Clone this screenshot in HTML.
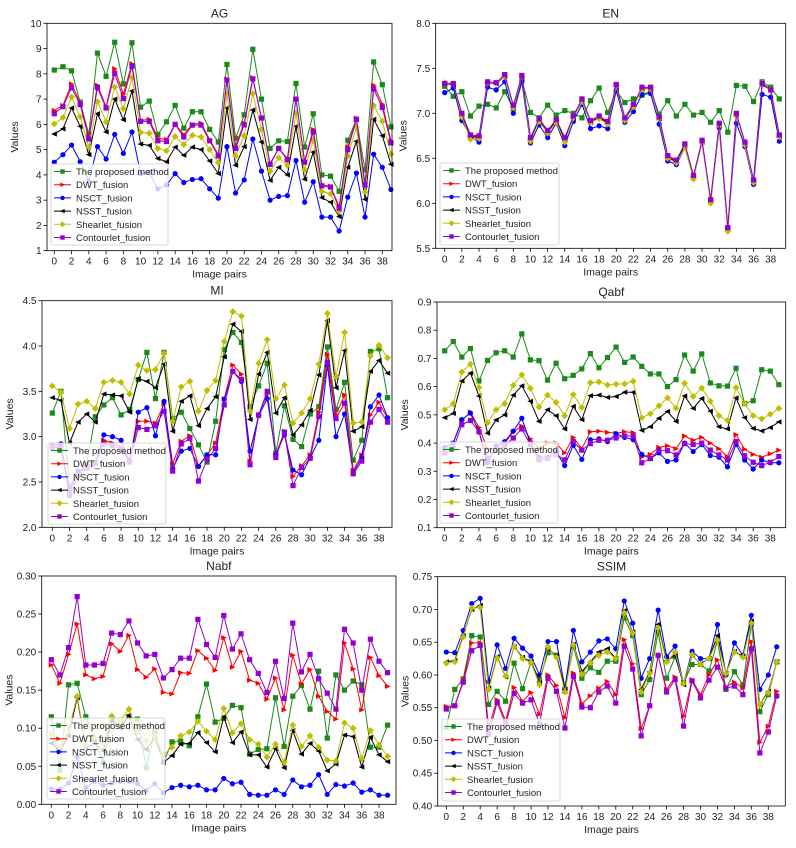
<!DOCTYPE html>
<html><head><meta charset="utf-8"><style>
body{margin:0;background:#fff;width:796px;height:848px;overflow:hidden;font-family:"Liberation Sans","DejaVu Sans",sans-serif}
svg{display:block}
</style></head><body>
<svg id="fig" width="796" height="848" xmlns="http://www.w3.org/2000/svg"></svg>
<script>
const xCats=[...Array(40).keys()];
const seriesNames=["The proposed method","DWT_fusion","NSCT_fusion","NSST_fusion","Shearlet_fusion","Contourlet_fusion"];
const xTickLabels=[0,2,4,6,8,10,12,14,16,18,20,22,24,26,28,30,32,34,36,38];

const agProposed=[8.15,8.28,8.12,6.88,5.6,8.82,7.9,9.25,7.6,9.23,6.68,6.92,5.6,6.1,6.75,5.85,6.5,6.5,5.8,5.3,8.37,5.45,6.38,8.97,7.0,5.05,5.35,5.32,7.62,5.1,6.42,4.0,3.95,3.35,5.37,6.2,4.2,8.47,7.57,5.9];
const agDWT=[6.55,6.75,7.6,6.85,5.5,7.55,6.7,8.2,7.2,8.4,6.15,6.2,5.45,5.4,6.0,5.6,6.0,6.05,5.4,4.8,7.8,5.15,6.05,7.85,6.25,4.45,5.05,4.65,7.0,4.55,5.8,3.6,3.55,2.75,5.1,6.25,3.65,7.55,6.8,5.35];
const agNSCT=[4.5,4.8,5.18,4.52,3.75,5.12,4.63,5.6,4.85,5.7,4.05,4.1,3.45,3.6,4.05,3.7,3.82,3.85,3.45,3.08,5.12,3.28,3.8,5.42,4.15,3.0,3.15,3.18,4.57,2.92,3.73,2.33,2.33,1.78,3.12,4.07,2.33,4.82,4.3,3.42];
const agNSST=[5.62,5.82,6.65,5.92,4.8,6.42,5.7,7.0,6.18,7.32,5.22,5.17,4.65,4.52,5.1,4.78,5.1,5.0,4.55,4.05,6.65,4.38,5.12,6.57,5.3,3.78,4.3,4.0,5.92,3.83,4.9,3.1,2.92,2.35,4.3,5.33,3.03,6.2,5.55,4.42];
const agShearlet=[6.02,6.27,7.08,6.3,5.1,6.9,6.1,7.48,6.62,7.85,5.68,5.65,5.05,4.95,5.52,5.2,5.57,5.5,5.0,4.48,7.2,4.75,5.55,7.22,5.8,4.15,4.68,4.38,6.45,4.2,5.37,3.35,3.25,2.55,4.75,5.88,3.32,6.75,6.12,4.82];
const agContourlet=[6.42,6.7,7.45,6.78,5.42,7.45,6.65,8.02,7.02,8.3,6.12,6.12,5.35,5.32,6.0,5.5,5.97,5.97,5.35,4.75,7.75,5.05,5.98,7.8,6.25,4.42,5.05,4.6,7.0,4.5,5.7,3.57,3.52,2.68,5.0,6.2,3.6,7.4,6.67,5.27];

const enProposed=[7.3,7.19,7.24,6.97,7.08,7.1,7.06,7.24,7.05,7.37,7.01,6.95,7.09,6.98,7.03,7.0,6.95,7.14,7.28,7.01,7.25,7.12,7.16,7.2,7.25,6.99,7.14,6.97,7.1,6.98,7.01,6.9,7.03,6.79,7.31,7.3,7.13,7.35,7.29,7.16];
const enDWT=[7.33,7.33,6.99,6.75,6.74,7.34,7.34,7.42,7.08,7.42,6.72,6.93,6.8,6.92,6.72,6.96,7.15,6.91,6.96,6.9,7.31,6.94,7.09,7.28,7.28,6.95,6.52,6.47,6.65,6.3,6.69,6.03,6.88,5.72,6.99,6.67,6.25,7.33,7.27,6.75];
const enNSCT=[7.23,7.28,6.92,6.74,6.68,7.29,7.26,7.35,7.0,7.35,6.67,6.87,6.73,6.89,6.64,6.91,7.1,6.83,6.86,6.83,7.25,6.9,7.02,7.21,7.22,6.88,6.47,6.43,6.62,6.28,6.68,6.02,6.84,5.71,6.89,6.63,6.21,7.21,7.18,6.69];
const enNSST=[7.33,7.32,6.98,6.74,6.73,7.34,7.33,7.41,7.07,7.41,6.71,6.92,6.79,6.91,6.71,6.95,7.14,6.9,6.95,6.89,7.3,6.93,7.08,7.27,7.27,6.94,6.51,6.46,6.64,6.29,6.68,6.02,6.87,5.71,6.98,6.66,6.24,7.32,7.26,6.74];
const enShearlet=[7.34,7.33,6.96,6.71,6.72,7.34,7.34,7.41,7.06,7.41,6.69,6.91,6.78,6.9,6.68,6.95,7.13,6.9,6.94,6.88,7.3,6.92,7.07,7.27,7.27,6.94,6.5,6.45,6.62,6.27,6.68,6.0,6.86,5.69,6.97,6.65,6.23,7.33,7.26,6.74];
const enContourlet=[7.33,7.33,7.0,6.76,6.75,7.35,7.34,7.43,7.09,7.42,6.73,6.94,6.81,6.93,6.73,6.97,7.16,6.92,6.97,6.91,7.32,6.95,7.1,7.29,7.29,6.96,6.53,6.48,6.66,6.31,6.7,6.04,6.89,5.73,7.0,6.68,6.26,7.33,7.26,6.76];

const miProposed=[3.26,3.5,2.45,2.6,2.7,3.22,3.35,3.43,3.24,3.3,3.63,3.93,3.42,3.93,3.2,3.27,3.09,2.91,2.72,3.17,3.96,4.15,4.04,3.33,3.56,3.81,2.82,3.34,2.97,2.89,3.25,3.33,3.99,3.3,3.6,2.74,2.96,3.94,3.97,3.43];
const miDWT=[2.88,2.9,2.4,2.6,2.68,2.72,2.96,2.93,2.88,2.75,3.17,3.17,3.15,3.36,2.7,2.95,3.01,2.68,2.8,2.93,3.42,3.79,3.69,2.73,3.24,3.47,2.8,3.06,2.56,2.68,2.8,3.27,3.91,3.24,3.46,2.63,2.8,3.24,3.38,3.2];
const miNSCT=[2.9,2.92,2.4,2.62,2.65,2.7,3.02,3.0,2.96,2.72,3.27,3.32,3.01,3.39,2.65,2.84,2.87,2.67,2.8,2.8,3.41,3.72,3.61,2.84,3.23,3.42,2.8,3.02,2.63,2.58,2.77,2.96,3.79,3.0,3.25,2.6,2.77,3.33,3.46,3.21];
const miNSST=[3.43,3.4,2.93,3.16,3.25,3.16,3.47,3.46,3.45,3.27,3.64,3.61,3.54,3.8,3.06,3.39,3.45,3.12,3.31,3.44,3.88,4.24,4.16,3.19,3.69,3.93,3.26,3.43,3.02,3.13,3.29,3.68,4.28,3.54,3.95,3.06,3.11,3.72,3.84,3.7];
const miShearlet=[3.56,3.49,3.09,3.36,3.39,3.31,3.6,3.62,3.6,3.47,3.79,3.73,3.74,3.92,3.17,3.55,3.61,3.28,3.51,3.62,4.05,4.38,4.33,3.28,3.81,4.07,3.42,3.57,3.15,3.26,3.42,3.8,4.36,3.66,4.15,3.15,3.16,3.89,4.01,3.87];
const miContourlet=[2.88,2.88,2.35,2.58,2.65,2.7,2.92,2.9,2.86,2.72,3.1,3.08,3.12,3.28,2.62,2.92,2.98,2.51,2.75,2.87,3.35,3.72,3.63,2.69,3.24,3.5,2.77,3.05,2.46,2.66,2.76,3.22,3.82,3.2,3.37,2.59,2.73,3.16,3.3,3.16];

const qaProposed=[.727,.76,.705,.735,.62,.693,.72,.727,.705,.787,.695,.692,.623,.683,.628,.64,.663,.717,.667,.703,.74,.686,.705,.672,.645,.645,.6,.625,.712,.655,.716,.613,.603,.602,.665,.54,.55,.66,.655,.607];
const qaDWT=[.38,.4,.48,.51,.455,.38,.38,.4,.44,.46,.415,.38,.4,.4,.365,.42,.38,.44,.442,.438,.435,.44,.437,.35,.36,.385,.39,.38,.425,.41,.42,.4,.38,.352,.43,.378,.36,.35,.362,.375];
const qaNSCT=[.385,.4,.483,.506,.44,.33,.39,.405,.442,.488,.4,.35,.35,.37,.32,.392,.342,.412,.415,.405,.433,.42,.412,.36,.345,.365,.335,.34,.4,.37,.395,.356,.35,.316,.395,.34,.308,.34,.33,.33];
const qaNSST=[.49,.505,.62,.648,.567,.435,.482,.5,.57,.603,.548,.477,.518,.497,.45,.53,.483,.568,.57,.562,.565,.58,.58,.445,.458,.488,.512,.477,.567,.523,.558,.513,.458,.45,.56,.49,.452,.443,.455,.475];
const qaShearlet=[.518,.54,.652,.68,.597,.472,.518,.54,.605,.642,.594,.528,.57,.544,.497,.572,.526,.614,.617,.606,.609,.61,.619,.49,.504,.532,.56,.524,.612,.565,.595,.548,.497,.48,.597,.54,.497,.486,.502,.523];
const qaContourlet=[.365,.38,.465,.48,.44,.345,.375,.39,.418,.45,.395,.34,.345,.36,.34,.405,.375,.398,.41,.41,.418,.425,.425,.33,.345,.375,.373,.358,.398,.395,.4,.375,.358,.34,.405,.355,.332,.32,.332,.352];

const naProposed=[.115,.045,.157,.159,.115,.085,.055,.11,.105,.115,.112,.048,.095,.055,.082,.083,.077,.115,.158,.108,.113,.13,.127,.066,.072,.073,.14,.076,.142,.156,.125,.175,.087,.17,.15,.162,.157,.075,.075,.104];
const naDWT=[.183,.159,.197,.237,.17,.165,.168,.211,.201,.222,.177,.167,.178,.147,.145,.173,.172,.202,.192,.176,.219,.18,.201,.163,.159,.138,.166,.124,.196,.158,.177,.142,.122,.112,.212,.178,.124,.193,.169,.155];
const naNSCT=[.02,.02,.028,.062,.022,.03,.025,.028,.03,.03,.027,.018,.027,.015,.022,.025,.023,.025,.019,.019,.034,.027,.029,.013,.012,.012,.019,.013,.032,.023,.025,.039,.013,.026,.024,.028,.016,.019,.012,.012];
const naNSST=[.08,.07,.09,.14,.075,.08,.07,.11,.1,.117,.085,.072,.088,.055,.064,.079,.08,.094,.081,.069,.115,.081,.095,.065,.065,.049,.073,.048,.097,.066,.08,.07,.044,.053,.091,.089,.049,.088,.065,.056];
const naShearlet=[.092,.075,.097,.142,.078,.088,.08,.116,.11,.125,.095,.083,.09,.065,.075,.09,.095,.109,.096,.085,.126,.094,.106,.085,.079,.062,.079,.055,.104,.076,.09,.075,.058,.057,.107,.1,.06,.097,.078,.063];
const naContourlet=[.19,.17,.206,.273,.183,.183,.185,.225,.223,.241,.212,.195,.197,.166,.177,.192,.192,.243,.21,.193,.248,.204,.224,.19,.172,.147,.188,.139,.238,.174,.197,.165,.146,.125,.23,.212,.15,.217,.188,.173];

const ssProposed=[.52,.578,.594,.66,.658,.555,.575,.56,.618,.579,.62,.593,.634,.63,.575,.643,.595,.611,.604,.621,.621,.687,.66,.57,.593,.665,.595,.628,.588,.616,.616,.606,.652,.578,.605,.585,.678,.544,.57,.62];
const ssDWT=[.552,.553,.592,.649,.649,.52,.562,.53,.581,.56,.573,.54,.6,.584,.535,.603,.556,.568,.58,.59,.57,.654,.617,.518,.553,.63,.578,.597,.537,.593,.57,.6,.623,.582,.589,.58,.651,.497,.522,.575];
const ssNSCT=[.635,.634,.668,.709,.717,.59,.646,.61,.656,.641,.629,.6,.651,.651,.58,.668,.62,.635,.652,.655,.64,.713,.679,.595,.625,.699,.628,.644,.587,.636,.625,.625,.677,.6,.649,.63,.691,.578,.6,.643];
const ssNSST=[.62,.622,.66,.7,.706,.58,.628,.597,.643,.627,.62,.588,.64,.63,.578,.647,.605,.62,.635,.64,.625,.698,.665,.578,.605,.677,.622,.63,.585,.63,.617,.625,.66,.602,.636,.628,.682,.555,.575,.62];
const ssShearlet=[.618,.62,.658,.702,.703,.578,.626,.598,.643,.625,.619,.585,.643,.627,.574,.646,.601,.619,.63,.635,.625,.695,.664,.574,.603,.672,.62,.635,.587,.631,.616,.625,.653,.602,.635,.627,.679,.555,.573,.62];
const ssContourlet=[.548,.553,.589,.637,.645,.51,.558,.525,.572,.557,.562,.525,.595,.575,.519,.598,.551,.55,.574,.583,.557,.644,.609,.507,.553,.63,.574,.593,.522,.591,.565,.592,.612,.58,.583,.57,.64,.481,.513,.568];

const agTicks=[1,2,3,4,5,6,7,8,9,10];
const enTicks=["5.5","6.0","6.5","7.0","7.5","8.0"];
const miTicks=["2.0","2.5","3.0","3.5","4.0","4.5"];
const qaTicks=["0.1","0.2","0.3","0.4","0.5","0.6","0.7","0.8","0.9"];
const naTicks=["0.00","0.05","0.10","0.15","0.20","0.25","0.30"];
const ssTicks=["0.40","0.45","0.50","0.55","0.60","0.65","0.70","0.75"];

const NS="http://www.w3.org/2000/svg";
const svg=document.getElementById('fig');
function mk(tag,attrs,parent){const e=document.createElementNS(NS,tag);for(const k in attrs)e.setAttribute(k,attrs[k]);(parent||svg).appendChild(e);return e;}
const colors=["#1a8a1a","#ff0000","#0000ff","#000000","#bfbf00","#9400d3"];

function marker(g,k,x,y,s){
  const c=colors[k];let e;
  if(k===0){e=mk('rect',{x:x-s,y:y-s,width:2*s,height:2*s,fill:c},g);}
  else if(k===1){e=mk('polygon',{points:`${x+s+0.5},${y} ${x-s},${y-s} ${x-s},${y+s}`,fill:c},g);}
  else if(k===2){e=mk('circle',{cx:x,cy:y,r:s,fill:c},g);}
  else if(k===3){e=mk('polygon',{points:`${x-s-0.5},${y} ${x+s},${y-s} ${x+s},${y+s}`,fill:c},g);}
  else if(k===4){e=mk('polygon',{points:`${x},${y-s-0.8} ${x+s+0.8},${y} ${x},${y+s+0.8} ${x-s-0.8},${y}`,fill:c},g);}
  else {e=mk('rect',{x:x-s,y:y-s,width:2*s,height:2*s,fill:c},g);}
  return e;
}

const panels=[
 {key:'ag',title:'AG',series:[agProposed,agDWT,agNSCT,agNSST,agShearlet,agContourlet],ticks:agTicks,ymin:1,ymax:10,fl:47,fr:392,ft:23.3,fb:250.7,x0:54.3,x38:382.3,leg:[51,164,117,81]},
 {key:'en',title:'EN',series:[enProposed,enDWT,enNSCT,enNSST,enShearlet,enContourlet],ticks:enTicks,ymin:5.5,ymax:8.0,fl:435.7,fr:785.7,ft:23.3,fb:248.3,x0:444.7,x38:770.7,leg:[440,163,119,82]},
 {key:'mi',title:'MI',series:[miProposed,miDWT,miNSCT,miNSST,miShearlet,miContourlet],ticks:miTicks,ymin:2.0,ymax:4.5,fl:42,fr:392,ft:300.7,fb:527.3,x0:52.3,x38:379,leg:[48,443,118,81]},
 {key:'qa',title:'Qabf',series:[qaProposed,qaDWT,qaNSCT,qaNSST,qaShearlet,qaContourlet],ticks:qaTicks,ymin:0.1,ymax:0.9,fl:437,fr:785.7,ft:302,fb:527.7,x0:444.7,x38:770.3,leg:[440,442,118,81]},
 {key:'na',title:'Nabf',series:[naProposed,naDWT,naNSCT,naNSST,naShearlet,naContourlet],ticks:naTicks,ymin:0,ymax:0.30,fl:41.7,fr:396,ft:576,fb:804.3,x0:51.3,x38:379,leg:[47,718,118,81]},
 {key:'ss',title:'SSIM',series:[ssProposed,ssDWT,ssNSCT,ssNSST,ssShearlet,ssContourlet],ticks:ssTicks,ymin:0.40,ymax:0.75,fl:437.7,fr:785.3,ft:576.7,fb:806,x0:446.3,x38:768.3,leg:[442,719,118,82]}
];

panels.forEach(p=>{
  const g=mk('g',{});
  
  
  const xs=v=>p.x0+(v)*(p.x38-p.x0)/38;
  const ys=v=>p.fb-(v-p.ymin)*(p.fb-p.ft)/(p.ymax-p.ymin);
  const t=mk('text',{x:(p.fl+p.fr)/2,y:p.ft-6,'text-anchor':'middle','font-size':12,fill:'#222'},g);
  t.textContent=p.title;
  
  
  const nT=p.ticks.length;
  p.ticks.forEach((lab,i)=>{
    const v=p.ymin+i*(p.ymax-p.ymin)/(nT-1);
    const y=ys(v);
    mk('line',{x1:p.fl-3.5,x2:p.fl,y1:y,y2:y,stroke:'#000','stroke-width':0.8},g);
    const tt=mk('text',{x:p.fl-5.5,y:y+3.5,'text-anchor':'end','font-size':10,fill:'#222'},g);
    tt.textContent=lab;
    
    
  });
  xTickLabels.forEach(v=>{
    const x=xs(v);
    mk('line',{x1:x,x2:x,y1:p.fb,y2:p.fb+3.5,stroke:'#000','stroke-width':0.8},g);
    const tt=mk('text',{x:x,y:p.fb+14,'text-anchor':'middle','font-size':10,fill:'#222'},g);
    tt.textContent=v;
    
    
  });
  const xl=mk('text',{x:(p.fl+p.fr)/2,y:p.fb+27,'text-anchor':'middle','font-size':10.5,fill:'#222'},g);
  xl.textContent='Image pairs';
  
  
  const cy=(p.ft+p.fb)/2, cx=p.fl-29;
  const yl=mk('text',{x:cx,y:cy,'text-anchor':'middle','font-size':10.5,fill:'#222',transform:`rotate(-90 ${cx} ${cy})`},g);
  yl.textContent='Values';
  
  
  p.series.forEach((arr,k)=>{
    const sg=mk('g',{},g);
    
    
    const pts=arr.map((v,i)=>xs(xCats[i]).toFixed(2)+','+ys(v).toFixed(2)).join(' ');
    mk('polyline',{points:pts,fill:'none',stroke:colors[k],'stroke-width':1},sg);
    arr.forEach((v,i)=>{
      const m=marker(sg,k,xs(xCats[i]),ys(v),2.6);
      
      
    });
  });
  mk('rect',{x:p.fl,y:p.ft,width:p.fr-p.fl,height:p.fb-p.ft,fill:'none',stroke:'#000','stroke-width':0.8},g);
  const [lx,ly,lw,lh]=p.leg;
  const lg=mk('g',{},g);
  
  
  mk('rect',{x:lx,y:ly,width:lw,height:lh,rx:2,fill:'rgba(255,255,255,0.8)',stroke:'#ccc','stroke-width':0.8},lg);
  seriesNames.forEach((n,k)=>{
    const yy=ly+7.5+k*13.2;
    mk('line',{x1:lx+3,x2:lx+20,y1:yy,y2:yy,stroke:colors[k],'stroke-width':1},lg);
    marker(lg,k,lx+11.5,yy,2.2);
    const lt=mk('text',{x:lx+25,y:yy+3.5,'font-size':9.5,fill:'#222'},lg);
    lt.textContent=n;
    
    
  });
});
</script>
</body></html>
